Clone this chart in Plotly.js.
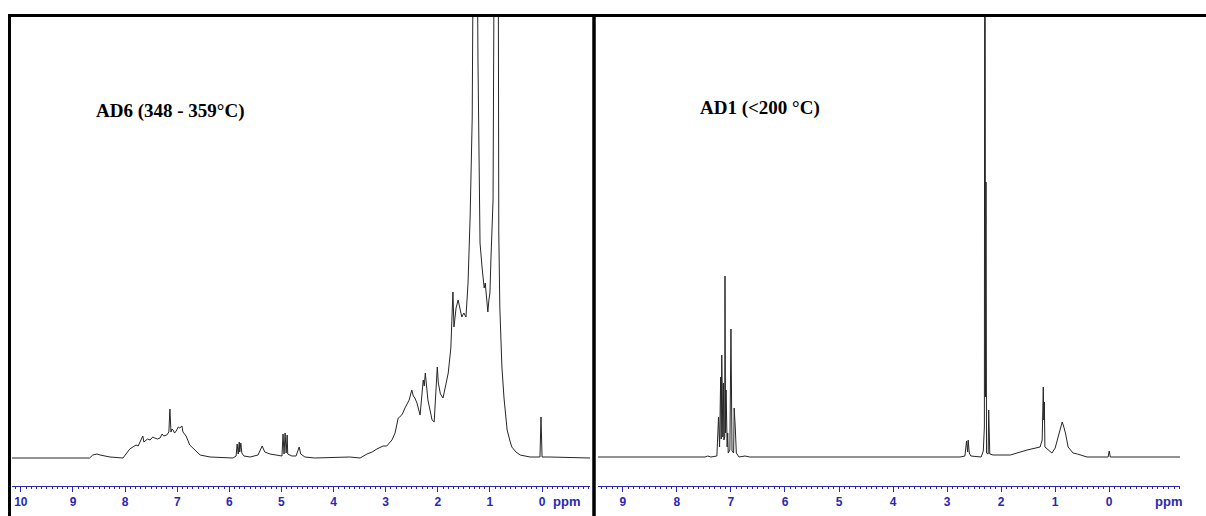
<!DOCTYPE html>
<html>
<head>
<meta charset="utf-8">
<script src="https://cdn.plot.ly/plotly-3.0.1.min.js"></script>
<style>html,body{margin:0;padding:0;background:#fff;}#chart{width:1206px;height:516px;}</style>
</head>
<body>
<div id="chart"></div>
<script>
// AD6 (348 - 359°C) spectrum: chemical shift (ppm) and intensity (arbitrary units)
const ad6Ppm = [10.17, 8.68, 8.62, 8.54, 8.48, 8.41, 8.29, 8.04, 7.96, 7.91, 7.85, 7.79, 7.75, 7.72, 7.66, 7.64, 7.62, 7.57, 7.52, 7.47, 7.43, 7.38, 7.33, 7.29, 7.26, 7.20, 7.16, 7.14, 7.12, 7.10, 7.08, 7.05, 7.02, 6.98, 6.95, 6.91, 6.89, 6.83, 6.76, 6.66, 6.56, 6.37,
  5.93, 5.87, 5.85, 5.83, 5.81, 5.80, 5.78, 5.76, 5.72, 5.60, 5.45, 5.37, 5.32, 5.22, 5.07, 4.99, 4.97, 4.95, 4.93, 4.91, 4.89, 4.88, 4.80, 4.72, 4.66, 4.63, 4.55, 4.36,
  3.69, 3.49, 3.36, 3.26, 3.17, 3.05, 2.98, 2.88, 2.82, 2.76, 2.73, 2.68, 2.63, 2.58, 2.55, 2.50, 2.47, 2.44, 2.40, 2.34, 2.28, 2.26, 2.24, 2.19, 2.11, 2.07, 2.01, 1.99, 1.95, 1.90, 1.80, 1.75, 1.71, 1.69, 1.67, 1.65, 1.61, 1.59, 1.57, 1.54, 1.50, 1.46, 1.42, 1.38, 1.34, 1.32,
  1.28, 1.23, 1.21, 1.19, 1.15, 1.11, 1.09, 1.07, 1.04, 1.02, 1.00, 0.98, 0.96, 0.94, 0.92, 0.88, 0.84, 0.83, 0.81, 0.77, 0.73, 0.67, 0.61, 0.58, 0.50, 0.42, 0.23, 0.04, 0.02, 0.00, -0.15, -0.92];
const ad6Int = [0, 0, 3, 4, 3, 2, 1, 0, 5, 9, 11, 13, 12, 15, 22, 16, 17, 19, 18, 21, 20, 19, 20, 24, 22, 23, 26, 49, 26, 29, 28, 25, 27, 31, 30, 32, 26, 22, 13, 8, 3, 1,
  0, 2, 14, 4, 16, 6, 15, 5, 2, 1, 3, 12, 6, 4, 3, 2, 24, 4, 25, 5, 23, 4, 2, 2, 11, 4, 1, 0,
  1, 0, 4, 6, 9, 12, 12, 18, 25, 40, 41, 44, 50, 55, 58, 68, 62, 60, 55, 43, 78, 72, 85, 58, 38, 36, 91, 75, 64, 60, 85, 110, 166, 131, 140, 150, 158, 152, 147, 141, 145, 141, 175, 241, 340, 450,
  900, 400, 280, 215, 190, 170, 175, 160, 146, 158, 165, 200, 241, 258, 500, 900, 500, 225, 150, 91, 60, 28, 16, 11, 6, 3, 1, 1, 41, 1, 1, 0];

// AD1 (<200 °C) spectrum
const ad1Ppm = [9.46, 7.48, 7.43, 7.37, 7.26, 7.23, 7.21, 7.19, 7.18, 7.17, 7.15, 7.14, 7.13, 7.115, 7.11, 7.10, 7.09, 7.07, 7.06, 7.05, 7.02, 7.00, 6.98, 6.95, 6.94, 6.92, 6.90, 6.85, 6.74, 6.65,
  2.76, 2.67, 2.64, 2.62, 2.61, 2.59, 2.56, 2.37, 2.33, 2.31, 2.30, 2.29, 2.28, 2.27, 2.24, 2.23, 2.21, 2.15, 1.83, 1.52, 1.33, 1.28, 1.24, 1.22, 1.21, 1.20, 1.19, 1.13, 1.06, 1.00, 0.96, 0.91, 0.87, 0.85, 0.81, 0.76, 0.67, 0.59, 0.41, 0.02, 0.00, -0.02, -1.31];
const ad1Int = [0, 0, 1, 0, 1, 40, 10, 80, 18, 102, 20, 74, 17, 20, 181, 24, 67, 10, 24, 4, 7, 128, 6, 4, 49, 30, 4, 0, 1, 0,
  0, 1, 16, 5, 17, 4, 1, 0, 6, 30, 1000, 60, 275, 4, 3, 47, 3, 2, 2, 7, 9, 10, 17, 70, 37, 55, 10, 7, 4, 9, 17, 27, 35, 32, 24, 10, 4, 3, 0, 0, 6, 0, 0];

const ppmTicks = [0, 1, 2, 3, 4, 5, 6, 7, 8, 9, 10];
const titles = ["AD6 (348 - 359°C)", "AD1 (<200 °C)"];
const unitLabel = "ppm";

const W = 1206, H = 516;
const px = v => v / W;
const py = v => 1 - v / H;
const blue = '#2828b4';

const lineStyle = {color: '#262626', width: 1};
const traces = [
  {x: ad6Ppm, y: ad6Int, type: 'scatter', mode: 'lines', line: lineStyle, xaxis: 'x', yaxis: 'y', hoverinfo: 'x+y'},
  {x: ad1Ppm, y: ad1Int, type: 'scatter', mode: 'lines', line: lineStyle, xaxis: 'x2', yaxis: 'y2', hoverinfo: 'x+y'}
];

function xAxis(domain, range, anchor) {
  return {
    domain: domain, range: range, anchor: anchor,
    tickmode: 'array', tickvals: ppmTicks, ticktext: ppmTicks.map(String),
    ticks: 'outside', ticklen: 5, tickwidth: 1, tickcolor: blue,
    showline: true, linecolor: blue, linewidth: 1,
    showgrid: false, zeroline: false,
    tickfont: {family: 'Liberation Sans, Arial, sans-serif', size: 12, color: blue, weight: 'bold'},
    minor: {tickmode: 'linear', tick0: 0, dtick: 0.1, ticks: 'outside', ticklen: 2, tickcolor: blue, showgrid: false},
    fixedrange: true
  };
}
const yDomain = [py(486), py(16)];
function yAxis(range, anchor) {
  return {domain: yDomain, range: range, anchor: anchor, visible: false, showgrid: false, zeroline: false, fixedrange: true};
}

const layout = {
  width: W, height: H,
  margin: {l: 0, r: 0, t: 0, b: 0},
  paper_bgcolor: '#ffffff', plot_bgcolor: '#ffffff',
  showlegend: false,
  xaxis: xAxis([px(12), px(590)], [10.17, -0.92], 'y'),
  yaxis: yAxis([-28, 442], 'x'),
  xaxis2: xAxis([px(598), px(1180)], [9.46, -1.31], 'y2'),
  yaxis2: yAxis([-29, 441], 'x2'),
  shapes: [
    {type: 'line', xref: 'paper', yref: 'paper', x0: px(8), x1: 1, y0: py(15.5), y1: py(15.5), line: {color: '#000', width: 3}, layer: 'above'},
    {type: 'line', xref: 'paper', yref: 'paper', x0: px(9.5), x1: px(9.5), y0: py(15), y1: 0, line: {color: '#000', width: 3}, layer: 'above'},
    {type: 'line', xref: 'paper', yref: 'paper', x0: px(594), x1: px(594), y0: py(15), y1: 0, line: {color: '#000', width: 3.5}, layer: 'above'}
  ],
  annotations: [
    {text: '<b>' + titles[0] + '</b>', xref: 'paper', yref: 'paper', x: px(170), y: py(111), showarrow: false, xanchor: 'center', yanchor: 'middle',
      font: {family: 'Liberation Serif, Times New Roman, serif', size: 19, color: '#000'}},
    {text: '<b>' + titles[1] + '</b>', xref: 'paper', yref: 'paper', x: px(760), y: py(108), showarrow: false, xanchor: 'center', yanchor: 'middle',
      font: {family: 'Liberation Serif, Times New Roman, serif', size: 19, color: '#000'}},
    {text: '<b>' + unitLabel + '</b>', xref: 'paper', yref: 'paper', x: px(566), y: py(501), showarrow: false, xanchor: 'center', yanchor: 'middle',
      font: {family: 'Liberation Sans, Arial, sans-serif', size: 13, color: blue}},
    {text: '<b>' + unitLabel + '</b>', xref: 'paper', yref: 'paper', x: px(1168), y: py(501), showarrow: false, xanchor: 'center', yanchor: 'middle',
      font: {family: 'Liberation Sans, Arial, sans-serif', size: 13, color: blue}}
  ]
};

Plotly.newPlot('chart', traces, layout, {displayModeBar: false, staticPlot: true});
</script>
</body>
</html>
